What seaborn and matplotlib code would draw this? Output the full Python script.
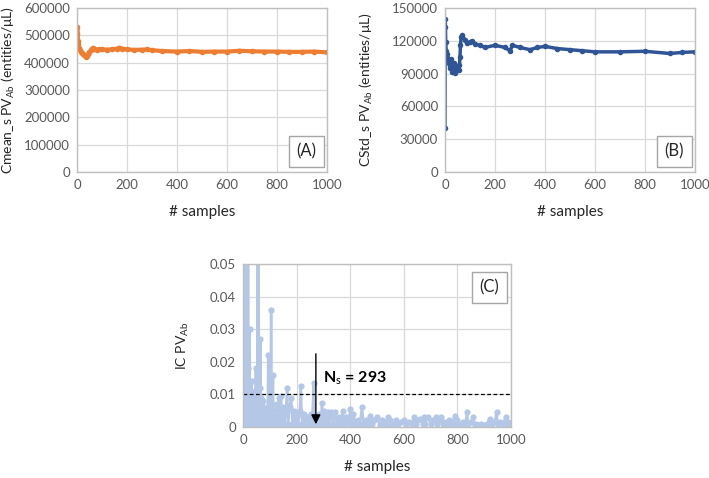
import numpy as np
import pandas as pd
import seaborn as sns
import matplotlib.pyplot as plt

# ---------------- datos ----------------
a_samples = [0, 1, 2, 3, 5, 8, 12, 16, 20, 25, 30, 35, 40, 45, 50, 55, 60, 65, 70, 80,
             90, 100, 120, 140, 160, 170, 180, 200, 230, 260, 280, 300, 340, 400, 450,
             500, 550, 600, 650, 700, 750, 800, 850, 900, 950, 1000]
a_cmean = [450000, 530000, 505000, 480000, 470000, 455000, 445000, 440000, 436000, 432000,
           428000, 422000, 425000, 432000, 440000, 445000, 452000, 455000, 452000, 448000,
           450000, 449000, 448000, 449000, 452000, 455000, 452000, 449000, 447000, 448000,
           449000, 446000, 443000, 441000, 443000, 440000, 441000, 441000, 444000, 442000,
           441000, 441000, 440000, 440000, 441000, 438000]

b_samples = [0, 1, 2, 3, 5, 8, 10, 15, 20, 25, 30, 35, 40, 45, 50, 55, 58, 60, 62, 65,
             70, 80, 90, 100, 110, 120, 140, 160, 200, 240, 260, 270, 300, 340, 370, 400,
             450, 500, 550, 600, 700, 800, 900, 950, 1000]
b_cstd = [40000, 140000, 133000, 119000, 111000, 104000, 108000, 100000, 95000, 103000,
          92000, 100000, 91000, 97000, 95000, 93000, 98000, 105000, 116000, 124000,
          125000, 121000, 118000, 119000, 120000, 117000, 116000, 114000, 116000, 114000,
          111000, 116000, 114000, 112000, 114000, 115000, 113000, 112000, 111000, 110000,
          110000, 110500, 108500, 109500, 110000]

ic_points = [
    (0, 0.015), (1, 0.042), (2, 0.002), (3, 0.033), (4, 0.001), (5, 0.09), (6, 0.004),
    (7, 0.06), (8, 0.002), (9, 0.02), (10, 0.003), (11, 0.075), (12, 0.001), (13, 0.012),
    (14, 0.002), (15, 0.055), (16, 0.004), (17, 0.018), (18, 0.001), (19, 0.065),
    (20, 0.003), (22, 0.011), (24, 0.002), (25, 0.030), (26, 0.003), (28, 0.008),
    (30, 0.002), (32, 0.014), (34, 0.001), (36, 0.009), (38, 0.002), (40, 0.006),
    (42, 0.001), (44, 0.011), (46, 0.002), (48, 0.018), (50, 0.003), (52, 0.007),
    (54, 0.001), (55, 0.07), (56, 0.002), (58, 0.06), (60, 0.003), (62, 0.012),
    (64, 0.001), (65, 0.027), (66, 0.002), (68, 0.009), (70, 0.001), (72, 0.005),
    (74, 0.002), (76, 0.008), (78, 0.001), (80, 0.004), (84, 0.0005), (88, 0.006),
    (92, 0.001), (94, 0.022), (96, 0.002), (100, 0.009), (103, 0.001), (105, 0.036),
    (107, 0.002), (110, 0.007), (112, 0.016), (114, 0.001), (118, 0.005), (122, 0.001),
    (126, 0.007), (130, 0.001), (134, 0.009), (138, 0.002), (142, 0.0095), (146, 0.001),
    (150, 0.006), (156, 0.001), (160, 0.005), (165, 0.012), (168, 0.001), (174, 0.006),
    (180, 0.009), (184, 0.001), (190, 0.005), (196, 0.001), (200, 0.004), (206, 0.001),
    (212, 0.005), (216, 0.0125), (220, 0.001), (226, 0.004), (232, 0.001), (240, 0.003),
    (246, 0.001), (252, 0.004), (258, 0.001), (264, 0.0135), (267, 0.001), (270, 0.003),
    (276, 0.0005), (282, 0.004), (290, 0.001), (295, 0.0075), (298, 0.001), (304, 0.005),
    (310, 0.001), (318, 0.0045), (322, 0.001), (330, 0.0045), (336, 0.001), (344, 0.0045),
    (350, 0.001), (358, 0.003), (366, 0.001), (372, 0.005), (378, 0.001), (386, 0.003),
    (394, 0.001), (400, 0.0055), (406, 0.001), (412, 0.004), (420, 0.001), (430, 0.002),
    (436, 0.001), (444, 0.006), (450, 0.001), (460, 0.002), (466, 0.0005), (474, 0.0035),
    (480, 0.001), (490, 0.002), (500, 0.003), (510, 0.0005), (520, 0.002), (530, 0.001),
    (540, 0.003), (544, 0.001), (550, 0.002), (560, 0.0005), (570, 0.002), (580, 0.001),
    (590, 0.0015), (600, 0.002), (610, 0.0005), (620, 0.0015), (630, 0.001), (640, 0.003),
    (645, 0.001), (650, 0.002), (660, 0.0025), (670, 0.001), (676, 0.003), (680, 0.001),
    (690, 0.003), (700, 0.001), (710, 0.002), (720, 0.003), (725, 0.001), (730, 0.002),
    (740, 0.003), (745, 0.001), (750, 0.0015), (760, 0.0005), (770, 0.002), (780, 0.001),
    (790, 0.0035), (795, 0.001), (800, 0.002), (810, 0.0005), (820, 0.0015), (830, 0.001),
    (836, 0.0045), (840, 0.001), (850, 0.0015), (860, 0.003), (864, 0.0005), (870, 0.001),
    (880, 0.0005), (890, 0.001), (900, 0.0005), (910, 0.001), (920, 0.0025), (925, 0.0005),
    (930, 0.001), (940, 0.0015), (946, 0.0045), (950, 0.001), (960, 0.0015), (970, 0.001),
    (980, 0.003), (985, 0.0005), (990, 0.0015), (1000, 0.001),
]
ic_threshold = 0.01
ns_value = 293

# ---------------- estilo ----------------
sns.set_style('white')
plt.rcParams['font.family'] = ['Lato', 'DejaVu Sans']
plt.rcParams['mathtext.fontset'] = 'custom'
plt.rcParams['mathtext.rm'] = 'Lato'
plt.rcParams['mathtext.it'] = 'Lato:italic'
plt.rcParams['mathtext.bf'] = 'Lato:bold'

gris_txt = '#595959'
gris_grid = '#d9d9d9'


def formato_eje(ax, ymax, ystep, ylabel, xlab_pos, letra, pos_letra):
    ax.set_xlim(0, 1000)
    ax.set_ylim(0, ymax)
    ax.set_xticks(np.arange(0, 1001, 200))
    ax.set_yticks(np.arange(0, ymax + ystep / 2, ystep))
    ax.grid(True, color=gris_grid, lw=0.9)
    ax.set_axisbelow(True)
    for s in ax.spines.values():
        s.set_visible(True)
        s.set_color('#bfbfbf')
        s.set_linewidth(1.0)
    ax.tick_params(length=0, labelsize=9.5, labelcolor=gris_txt, pad=5)
    ax.set_xlabel('# samples', fontsize=11, color='#262626', labelpad=10)
    ax.set_ylabel(ylabel, fontsize=10, color='#262626')
    # el borde derecho de la etiqueta queda en xlab_pos
    ax.yaxis.set_label_coords(xlab_pos, 0.5)
    ax.text(pos_letra[0], pos_letra[1], letra, transform=ax.transAxes, fontsize=12,
            ha='center', va='center', color='#262626',
            bbox=dict(boxstyle='square,pad=0.45', fc='white', ec='#a6a6a6', lw=1.0))


fig = plt.figure(figsize=(7.09, 4.78), dpi=100)
ax_a = fig.add_axes([0.1086, 0.640, 0.3526, 0.343])
ax_b = fig.add_axes([0.6276, 0.640, 0.3526, 0.343])
ax_c = fig.add_axes([0.3427, 0.1067, 0.378, 0.341])

# (A)
df_a = pd.DataFrame({'samples': a_samples, 'cmean': a_cmean})
sns.lineplot(data=df_a, x='samples', y='cmean', ax=ax_a, color='#ed7d31', lw=3,
             marker='o', markersize=4, markeredgewidth=0, estimator=None, sort=False)
formato_eje(ax_a, 600000, 100000, 'Cmean_s PV$_{\\mathrm{Ab}}$ (entities/μL)', -0.24,
            '(A)', (0.918, 0.125))

# (B)
df_b = pd.DataFrame({'samples': b_samples, 'cstd': b_cstd})
sns.lineplot(data=df_b, x='samples', y='cstd', ax=ax_b, color='#2f5597', lw=2.5,
             marker='o', markersize=4, markeredgewidth=0, estimator=None, sort=False)
formato_eje(ax_b, 150000, 30000, 'CStd_s PV$_{\\mathrm{Ab}}$ (entities/μL)', -0.28,
            '(B)', (0.918, 0.125))

# (C)
df_c = pd.DataFrame(ic_points, columns=['samples', 'ic'])
sns.lineplot(data=df_c, x='samples', y='ic', ax=ax_c, color='#b4c7e7', lw=1.8,
             marker='o', markersize=4.5, markeredgewidth=0, estimator=None, sort=False)
formato_eje(ax_c, 0.05, 0.01, 'IC PV$_{\\mathrm{Ab}}$', -0.194, '(C)', (0.92, 0.856))
ax_c.set_yticks([0, 0.01, 0.02, 0.03, 0.04, 0.05])
ax_c.set_yticklabels(['0', '0.01', '0.02', '0.03', '0.04', '0.05'])
ax_c.axhline(ic_threshold, color='black', lw=0.9, ls=(0, (3, 2)))
ax_c.annotate('', xy=(272, 0), xytext=(272, 0.0233),
              arrowprops=dict(arrowstyle='-|>', color='black', lw=1.0, mutation_scale=14))
ax_c.text(298, 0.015, 'N$_\\mathrm{s}$ = %d' % ns_value, fontsize=11.5, fontweight='bold',
          ha='left', va='center', color='black')

fig.savefig('out.png', dpi=100)
